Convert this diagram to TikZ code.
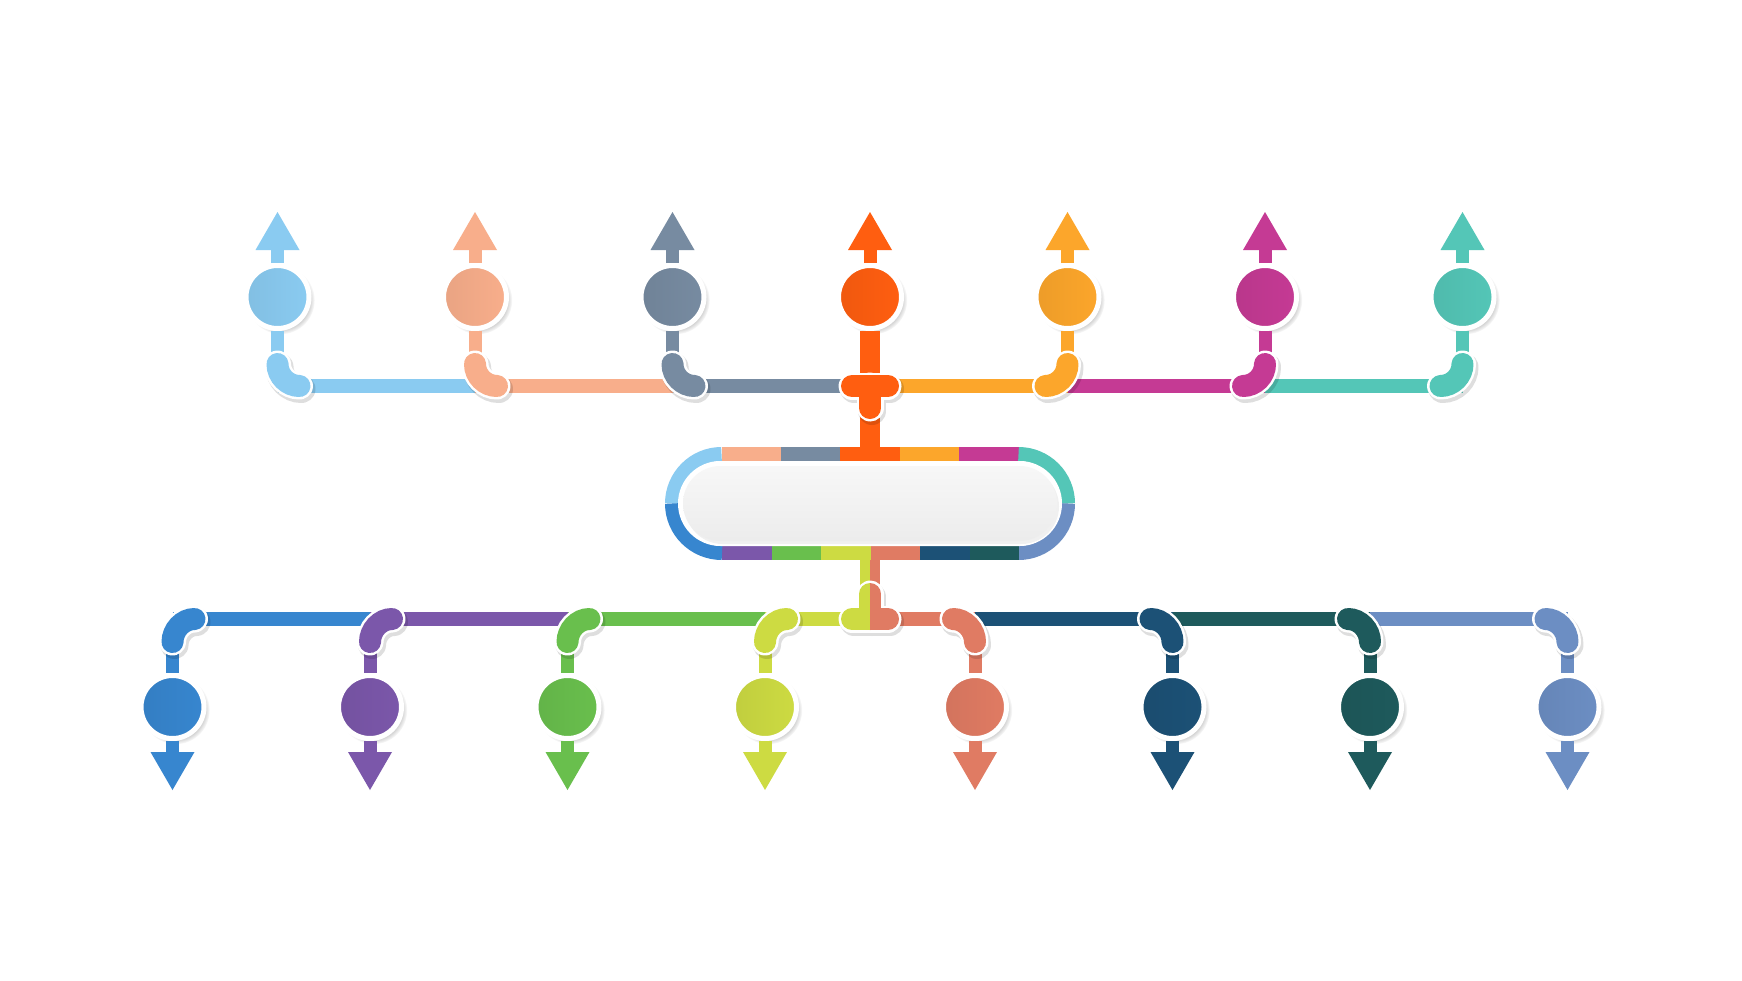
\documentclass[tikz,border=0pt]{standalone}
\usetikzlibrary{arrows.meta,shadows}
\definecolor{tA}{HTML}{8ACBF1}
\definecolor{tB}{HTML}{F8AE8B}
\definecolor{tC}{HTML}{778BA1}
\definecolor{tD}{HTML}{FF5E10}
\definecolor{tE}{HTML}{FCA62B}
\definecolor{tF}{HTML}{C53A94}
\definecolor{tG}{HTML}{54C6B7}
\definecolor{bA}{HTML}{3786CF}
\definecolor{bB}{HTML}{7B57AA}
\definecolor{bC}{HTML}{69BF4D}
\definecolor{bD}{HTML}{CDDB42}
\definecolor{bE}{HTML}{E07B63}
\definecolor{bF}{HTML}{1C5176}
\definecolor{bG}{HTML}{1E5A5C}
\definecolor{bH}{HTML}{6C8EC3}
\tikzset{
  dot/.style={circle, minimum size=63pt, inner sep=0pt, draw=white, line width=5pt,
    left color=#1!94!black, right color=#1,
    circular drop shadow={shadow xshift=3pt, shadow yshift=-3pt, shadow scale=1.08, opacity=.35}},
  arr/.style={draw=#1, line width=13pt, -{Triangle[width=44pt,length=38pt,line width=0pt]}},
  stem/.style={draw=#1, line width=13pt},
  lnk/.style={draw=#1, line width=14pt},
  rng/.style={draw=#1, line width=14pt, line cap=butt},
  elbs/.style={black, opacity=.13, line width=28pt, line cap=round},
  elbw/.style={white, line width=27pt, line cap=round},
  elbc/.style={draw=#1, line width=22pt, line cap=round},
}
\begin{document}
\begin{tikzpicture}[x=1pt,y=-1pt]
\fill[white] (0,0) rectangle (1742,980);
\useasboundingbox (0,0) rectangle (1742,980);

% ---------- top nodes and coordinates
\foreach \i/\x/\c in {1/277.5/tA,2/475/tB,3/672.5/tC,4/870/tD,5/1067.5/tE,6/1265/tF,7/1462.5/tG}{
  \node[dot=\c] (t\i) at (\x,297) {};
  \coordinate (tu\i) at (\x,212);
  \coordinate (tk\i) at (\x,386);
  \coordinate (te\i) at (\x,364);
  \coordinate (tl\i) at (\x+22,386);
  \coordinate (tr\i) at (\x-22,386);
}
% ---------- bottom nodes and coordinates
\foreach \i/\x/\c in {1/172.5/bA,2/370/bB,3/567.5/bC,4/765/bD,5/975/bE,6/1172.5/bF,7/1370/bG,8/1567.5/bH}{
  \node[dot=\c] (b\i) at (\x,707) {};
  \coordinate (bu\i) at (\x,790);
  \coordinate (bk\i) at (\x,619);
  \coordinate (be\i) at (\x,642);
  \coordinate (bl\i) at (\x+22,619);
  \coordinate (br\i) at (\x-22,619);
}
\coordinate (ct) at (870,386);
\coordinate (cb) at (870,619);
\coordinate (captop) at (870,454);

% ---------- horizontal lines
\draw[lnk=tA] (tk1) -- (tk2);
\draw[lnk=tB] (tk2) -- (tk3);
\draw[lnk=tC] (tk3) -- (ct);
\draw[lnk=tE] (ct) -- (tk5);
\draw[lnk=tF] (tk5) -- (tk6);
\draw[lnk=tG] (tk6) -- (tk7);
\draw[lnk=bA] (bk1) -- (bk2);
\draw[lnk=bB] (bk2) -- (bk3);
\draw[lnk=bC] (bk3) -- (bk4);
\draw[lnk=bD] (bk4) -- (cb);
\draw[lnk=bE] (cb) -- (bk5);
\draw[lnk=bF] (bk5) -- (bk6);
\draw[lnk=bG] (bk6) -- (bk7);
\draw[lnk=bH] (bk7) -- (bk8);

% ---------- vertical stems
\foreach \i/\c in {1/tA,2/tB,3/tC,5/tE,6/tF,7/tG}{
  \draw[stem=\c] (t\i.south) -- (te\i);
}
\foreach \i/\c in {1/bA,2/bB,3/bC,4/bD,5/bE,6/bF,7/bG,8/bH}{
  \draw[stem=\c] (be\i) -- (b\i.north);
}
\draw[draw=tD, line width=20pt] (t4.south) -- (captop);
\fill[bD] (860,553) rectangle (870,619);
\fill[bE] (870,553) rectangle (880,619);

% ---------- elbows
\foreach \i/\c in {1/tA,2/tB,3/tC}{
  \draw[elbs] ([shift={(2,3)}]te\i) .. controls +(0,12) and +(-12,0) .. ([shift={(2,3)}]tl\i);
  \draw[elbw] (te\i) .. controls +(0,12) and +(-12,0) .. (tl\i);
  \draw[elbc=\c] (te\i) .. controls +(0,12) and +(-12,0) .. (tl\i);
}
\foreach \i/\c in {5/tE,6/tF,7/tG}{
  \draw[elbs] ([shift={(2,3)}]te\i) .. controls +(0,12) and +(12,0) .. ([shift={(2,3)}]tr\i);
  \draw[elbw] (te\i) .. controls +(0,12) and +(12,0) .. (tr\i);
  \draw[elbc=\c] (te\i) .. controls +(0,12) and +(12,0) .. (tr\i);
}
\foreach \i/\c in {1/bA,2/bB,3/bC,4/bD}{
  \draw[elbs] ([shift={(2,3)}]be\i) .. controls +(0,-12) and +(-12,0) .. ([shift={(2,3)}]bl\i);
  \draw[elbw] (be\i) .. controls +(0,-12) and +(-12,0) .. (bl\i);
  \draw[elbc=\c] (be\i) .. controls +(0,-12) and +(-12,0) .. (bl\i);
}
\foreach \i/\c in {5/bE,6/bF,7/bG,8/bH}{
  \draw[elbs] ([shift={(2,3)}]be\i) .. controls +(0,-12) and +(12,0) .. ([shift={(2,3)}]br\i);
  \draw[elbw] (be\i) .. controls +(0,-12) and +(12,0) .. (br\i);
  \draw[elbc=\c] (be\i) .. controls +(0,-12) and +(12,0) .. (br\i);
}

% ---------- T junction top
\draw[elbs] (854,389) -- (890,389) (872,389) -- (872,411);
\draw[elbw] (852,386) -- (888,386) (870,386) -- (870,408);
\draw[elbc=tD] (852,386) -- (888,386) (870,386) -- (870,408);

% ---------- T junction bottom
\draw[elbs] (854,622) -- (890,622) (872,622) -- (872,597);
\draw[elbw] (852,619) -- (888,619) (870,619) -- (870,594);
\begin{scope}
  \clip (800,560) rectangle (870,660);
  \draw[elbc=bD] (852,619) -- (888,619) (870,619) -- (870,594);
\end{scope}
\begin{scope}
  \clip (870,560) rectangle (940,660);
  \draw[elbc=bE] (852,619) -- (888,619) (870,619) -- (870,594);
\end{scope}

% ---------- central capsule ring
\draw[rng=tA] (672,503.5) .. controls (672,476.16) and (694.16,454) .. (721.5,454);
\draw[rng=tB] (721.5,454) -- (781.4,454);
\draw[rng=tC] (780.9,454) -- (840.8,454);
\draw[rng=tD] (840.3,454) -- (900.2,454);
\draw[rng=tE] (899.7,454) -- (959.6,454);
\draw[rng=tF] (959.1,454) -- (1019,454);
\draw[rng=tG] (1018.5,454) .. controls (1045.84,454) and (1068,476.16) .. (1068,503.5);
\draw[rng=bH] (1068,503.5) .. controls (1068,530.84) and (1045.84,553) .. (1018.5,553);
\draw[rng=bG] (1019,553) -- (969,553);
\draw[rng=bF] (969.5,553) -- (919.5,553);
\draw[rng=bE] (920,553) -- (870,553);
\draw[rng=bD] (870.5,553) -- (820.5,553);
\draw[rng=bC] (821,553) -- (771,553);
\draw[rng=bB] (771.5,553) -- (721.5,553);
\draw[rng=bA] (722,553) .. controls (694.16,553) and (672,530.84) .. (672,503.5);
% inner plate
\fill[white, rounded corners=42.5pt] (678,461) rectangle (1062,546);
\fill[black, opacity=.06, rounded corners=37.5pt] (685,469) rectangle (1059,544);
\shade[top color=gray!6, bottom color=gray!15, rounded corners=37.5pt] (683,466) rectangle (1057,541);

% ---------- arrows
\foreach \i/\c in {1/tA,2/tB,3/tC,4/tD,5/tE,6/tF,7/tG}{
  \draw[arr=\c] (t\i.north) -- (tu\i);
}
\foreach \i/\c in {1/bA,2/bB,3/bC,4/bD,5/bE,6/bF,7/bG,8/bH}{
  \draw[arr=\c] (b\i.south) -- (bu\i);
}
\end{tikzpicture}
\end{document}
